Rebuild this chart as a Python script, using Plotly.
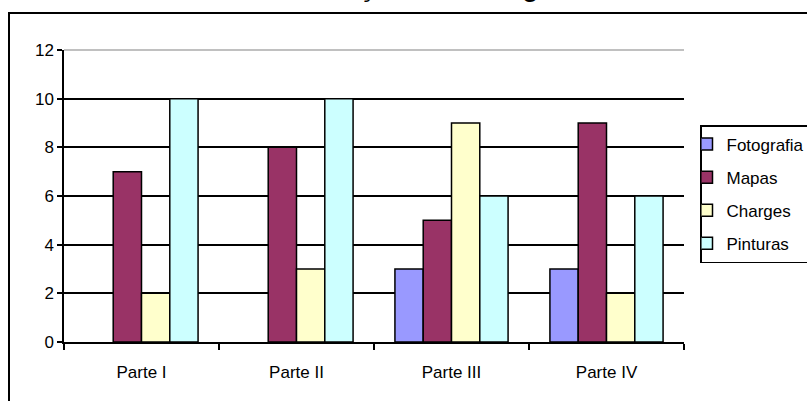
import plotly.graph_objects as go

categories = ["Parte I", "Parte II", "Parte III", "Parte IV"]
fotografia = [None, None, 3, 3]
mapas = [7, 8, 5, 9]
charges = [2, 3, 9, 2]
pinturas = [10, 10, 6, 6]
series_names = ["Fotografia", "Mapas", "Charges", "Pinturas"]
series_values = [fotografia, mapas, charges, pinturas]
series_colors = ["#9999FF", "#993366", "#FFFFCC", "#CCFFFF"]
y_ticks = [0, 2, 4, 6, 8, 10, 12]
title_text = "Utilização das Imagens"

W, H = 807, 401
L, R, T, B = 64, 684, 50, 342
pw, ph = R - L, B - T


def px(x):
    return (x - L) / pw


def py(y):
    return (B - y) / ph


fig = go.Figure()
for name, vals, col in zip(series_names, series_values, series_colors):
    fig.add_bar(
        x=categories, y=vals, name=name, legendgroup=name,
        marker=dict(color=col, line=dict(color="black", width=1.5)),
    )

fig.update_layout(
    width=W, height=H,
    margin=dict(l=L, r=W - R, t=T, b=H - B, pad=0, autoexpand=False),
    paper_bgcolor="white", plot_bgcolor="white",
    barmode="group", bargap=0.27, bargroupgap=0,
    font=dict(family="Liberation Sans, Arial, sans-serif", size=17, color="black"),
    showlegend=True,
    legend=dict(
        x=px(700), y=py(125), xanchor="left", yanchor="top",
        bordercolor="black", borderwidth=1.5, bgcolor="white",
        font=dict(size=17), tracegroupgap=8, itemwidth=30, indentation=-15,
    ),
    xaxis=dict(
        showline=True, linecolor="black", linewidth=2,
        ticks="outside", tickson="boundaries", ticklen=6, tickwidth=1.5, tickcolor="black",
        showgrid=False, ticklabelstandoff=14,
    ),
    yaxis=dict(
        range=[0, 12], tickvals=y_ticks, showgrid=True, gridcolor="black", gridwidth=1.5,
        showline=True, linecolor="black", linewidth=1.5, zeroline=False,
        ticks="outside", ticklen=5, tickwidth=1.5, tickcolor="black",
    ),
    shapes=[
        dict(type="line", xref="paper", yref="paper", x0=0, x1=1, y0=1, y1=1,
             line=dict(color="#C0C0C0", width=2), layer="above"),
        dict(type="rect", xref="paper", yref="paper", x0=px(9), x1=px(900),
             y0=py(500), y1=py(13), line=dict(color="black", width=2),
             fillcolor="rgba(0,0,0,0)", layer="below"),
    ],
    annotations=[
        dict(text=title_text, xref="paper", yref="paper", x=px(432), y=py(4.5),
             xanchor="center", yanchor="bottom", showarrow=False,
             font=dict(size=30, family="Liberation Sans, Arial, sans-serif")),
    ],
)

fig.write_html("out.html")
